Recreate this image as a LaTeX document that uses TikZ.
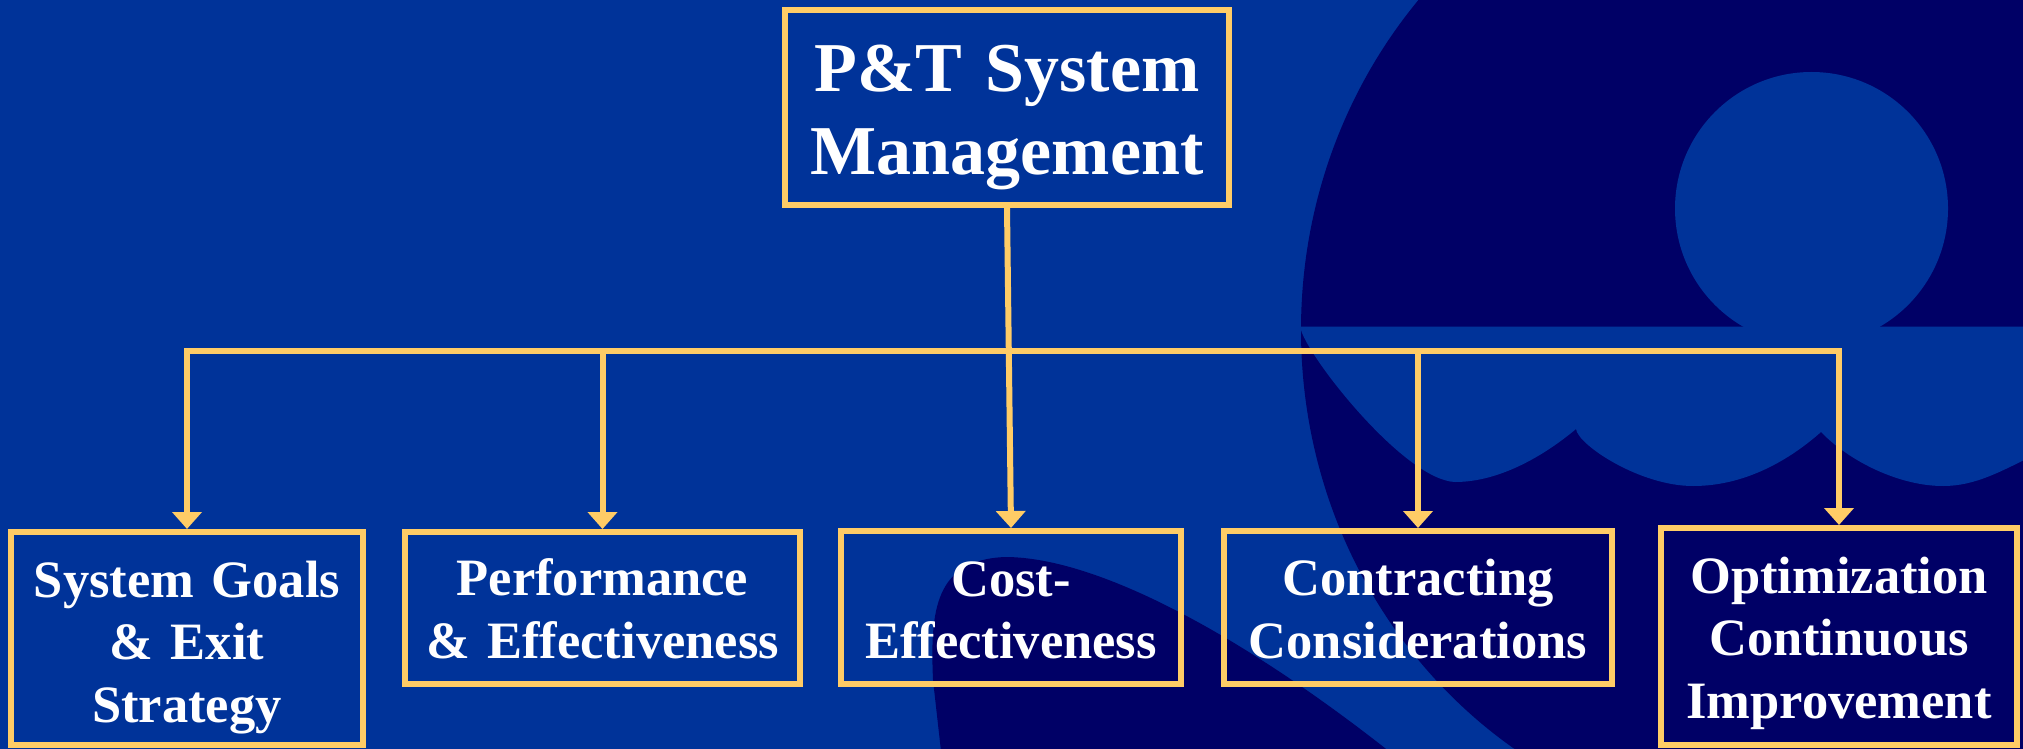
\documentclass[tikz,border=0pt]{standalone}
\usepackage{fontspec}
\setmainfont{Liberation Serif}
\usetikzlibrary{arrows.meta}
\definecolor{slideblue}{RGB}{0,51,153}
\definecolor{deepnavy}{RGB}{0,0,102}
\definecolor{gold}{RGB}{255,204,102}

\begin{document}
\begin{tikzpicture}[x=0.5pt,y=-0.5pt,
  panel/.style={draw=gold, line width=3pt, inner sep=0pt, text=white,
    align=center},
  bigtext/.style={font=\bfseries\fontsize{35pt}{41.5pt}\selectfont},
  smalltext/.style={font=\bfseries\fontsize{26.25pt}{31.25pt}\selectfont},
  link/.style={draw=gold, line width=3pt,
    -{Triangle[width=14.5pt,length=8.5pt]}},
  backshape/.style={fill=deepnavy},
  frontshape/.style={fill=slideblue}
]
% canvas
\useasboundingbox (0,0) rectangle (2023,749);
\fill[slideblue] (0,0) rectangle (2023,749);

% logo in the background
\begin{scope}
  \clip (0,0) rectangle (2023,749);
  \fill[backshape] (1782,330) ellipse [x radius=240.5pt, y radius=252pt];
  \fill[backshape] (942,760) -- (933,680)
    .. controls (930,610) and (935,560) .. (1005,557)
    .. controls (1100,557) and (1250,640) .. (1400,760) -- cycle;
  % shoulders with scalloped lower edge
  \fill[frontshape] (1250,326.5) -- (2040,326.5) -- (2040,452)
    .. controls (2000,472) and (1975,486) .. (1943,486)
    .. controls (1900,486) and (1850,462) .. (1821,432)
    .. controls (1795,455) and (1750,486) .. (1693,486)
    .. controls (1640,486) and (1578,445) .. (1576,429)
    .. controls (1545,455) and (1500,482) .. (1455,482)
    .. controls (1405,480) and (1310,360) .. (1301,330)
    -- (1250,330) -- cycle;
  % head
  \fill[frontshape] (1811.5,208.5) circle [radius=68.25pt];
\end{scope}

% boxes
\node[panel, bigtext, minimum width=222pt, minimum height=97.5pt,
  text width=216pt, text height=10pt, text depth=25.5pt]
  (top) at (1007,107.5) {P\&T System\\Management};
\node[panel, smalltext, minimum width=176pt, minimum height=106.5pt,
  text width=170pt, text height=5pt, text depth=46.5pt]
  (b1) at (187,638.5) {System Goals\\\& Exit\\Strategy};
\node[panel, smalltext, minimum width=197.5pt, minimum height=76pt,
  text width=191pt, text height=10pt, text depth=22.5pt]
  (b2) at (602.5,608) {Performance\\\& Effectiveness};
\node[panel, smalltext, minimum width=170pt, minimum height=76.5pt,
  text width=164pt, text height=10pt, text depth=21.5pt]
  (b3) at (1011,607.5) {Cost-\\Effectiveness};
\node[panel, smalltext, minimum width=194pt, minimum height=76.5pt,
  text width=188pt, text height=10pt, text depth=22pt]
  (b4) at (1418,607.5) {Contracting\\Considerations};
\node[panel, smalltext, minimum width=178pt, minimum height=108.5pt,
  text width=172pt, text height=5pt, text depth=48.5pt]
  (b5) at (1839,636.5) {Optimization\\Continuous\\Improvement};

% connectors
\coordinate (bus) at (1009,351);
\draw[link] (bus) -| (b1.north);
\draw[link] (bus) -| (b5.north);
\draw[link] (bus -| b2.north) -- (b2.north);
\draw[link] (bus -| b4.north) -- (b4.north);
\draw[link] (top.south) -- (b3.north);
\end{tikzpicture}
\end{document}
